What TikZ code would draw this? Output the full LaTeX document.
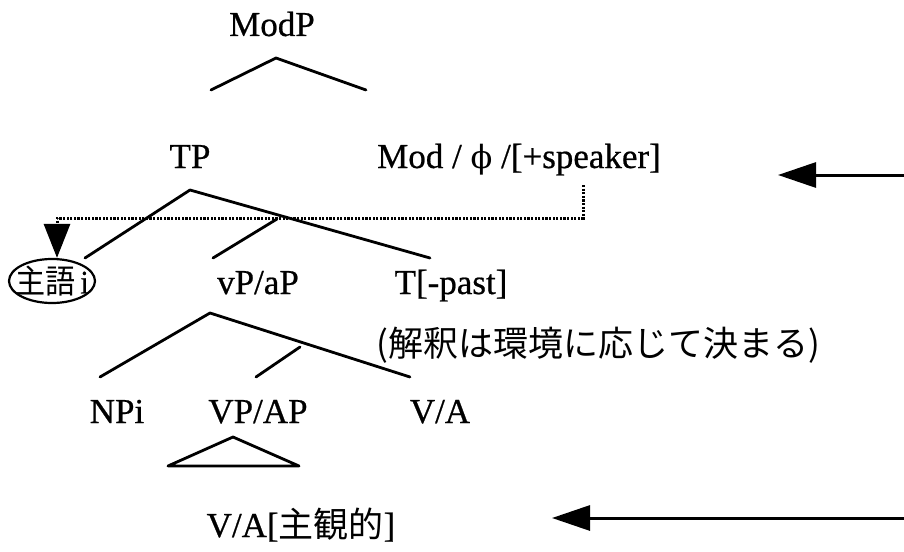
\documentclass[tikz,border=0pt]{standalone}
\usepackage{fontspec}
\setmainfont{Liberation Serif}[FakeBold=0.6]
\newfontfamily\jp{Noto Sans CJK JP}
\newfontfamily\grk{DejaVu Serif}
\usetikzlibrary{arrows.meta,shapes.geometric}

\begin{document}
\begin{tikzpicture}[x=1pt,y=-1pt,
  lbl/.style={font=\fontsize{35}{40}\selectfont, inner sep=0pt, anchor=base},
  branch/.style={line width=2.8pt, line cap=round, line join=round},
  bigarrow/.style={line width=3pt, -{Triangle[length=38pt,width=25pt]}},
  linkline/.style={line width=3pt, dash pattern=on 2.2pt off 1.4pt,
                   -{Triangle[length=34pt,width=26pt]}},
]
\useasboundingbox (0,0) rectangle (904,551);

% labels
\node[lbl] (modp) at (272,36) {ModP};
\node[lbl] (tp) at (190,168) {TP};
\node[lbl] (mod) at (519,168) {Mod / {\grk\fontsize{32}{36}\selectfont ϕ} /[+speaker]};
\node[draw, ellipse, line width=2.2pt, inner sep=0pt,
      minimum width=86pt, minimum height=44pt] (subj) at (52,281) {};
\node[font=\fontsize{35}{40}\selectfont, inner sep=0pt] (subjtext) at (subj.center)
      {\scalebox{0.86}[0.94]{{\jp 主語}\,i}};
\node[lbl] (vp) at (258,294) {vP/aP};
\node[lbl] (tpast) at (451,294) {T[-past]};
\node[lbl] (note) at (598,356) {\jp (解釈は環境に応じて決まる)};
\node[lbl] (npi) at (117,423) {NPi};
\node[lbl] (vpap) at (258,423) {VP/AP};
\node[lbl] (va) at (440,423) {V/A};
\node[lbl] (vasub) at (301,537) {V/A[{\jp 主観的}]};

% branch points
\coordinate (modtop) at (276,58);
\coordinate (modl) at (211,90);
\coordinate (modr) at (366,90);
\coordinate (tptop) at (190,190);
\coordinate (tpl) at (85,258);
\coordinate (tpr) at (430,258);
\coordinate (tpm) at (277,219);
\coordinate (tpml) at (213,258);
\coordinate (vptop) at (210,313);
\coordinate (vpl) at (100,377);
\coordinate (vpr) at (410,377);
\coordinate (vpm) at (300,347);
\coordinate (vpml) at (256,377);
\coordinate (trtop) at (233,437);
\coordinate (trl) at (168,466);
\coordinate (trr) at (299,466);

% tree branches
\draw[branch] (modl) -- (modtop) -- (modr);
\draw[branch] (tpl) -- (tptop) -- (tpr);
\draw[branch] (tpm) -- (tpml);
\draw[branch] (vpl) -- (vptop) -- (vpr);
\draw[branch] (vpm) -- (vpml);
\draw[branch] (trl) -- (trtop) -- (trr) -- cycle;

% dotted link from Mod down to the subject
\coordinate (lk1) at (583,185);
\coordinate (lk2) at (583,218);
\coordinate (lk3) at (57,218);
\draw[linkline] (lk1) -- (lk2) -- (lk3) -- (subj.north -| lk3);

% pointer arrows from the right edge
\coordinate (a1) at (904,175);
\coordinate (a2) at (904,518);
\draw[bigarrow] (a1) -- (778,175);
\draw[bigarrow] (a2) -- (552,518);
\end{tikzpicture}
\end{document}
